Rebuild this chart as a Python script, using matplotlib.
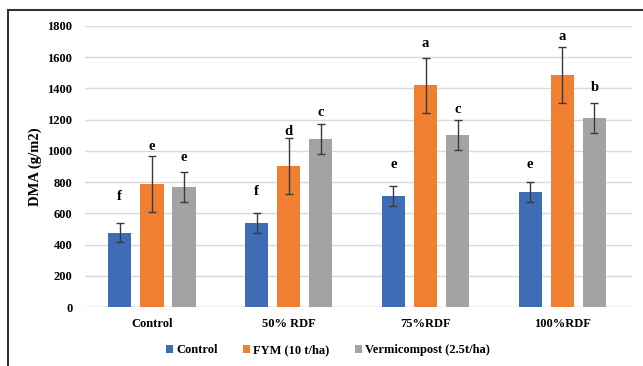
import numpy as np
import matplotlib
matplotlib.use("Agg")
import matplotlib.pyplot as plt
import matplotlib.patches as patch

categories = ['Control', '50% RDF', '75%RDF', '100%RDF']
series = ['Control', 'FYM (10 t/ha)', 'Vermicompost (2.5t/ha)']
control = [477, 538, 710, 737]
fym = [790, 905, 1420, 1487]
vermi = [770, 1075, 1100, 1210]
control_err = [63, 63, 65, 63]
fym_err = [180, 178, 178, 178]
vermi_err = [95, 95, 95, 95]
control_lab = ['f', 'f', 'e', 'e']
fym_lab = ['e', 'd', 'a', 'a']
vermi_lab = ['e', 'c', 'c', 'b']
control_lab_y = [711, 737, 910, 910]
fym_lab_y = [1031, 1127, 1690, 1730]
vermi_lab_y = [961, 1243, 1268, 1409]

colors = ['#3E6DB5', '#F07F32', '#A3A3A3']
plt.rcParams['font.family'] = ['Liberation Serif', 'DejaVu Serif']
plt.rcParams['font.weight'] = 'bold'

fig = plt.figure(figsize=(6.43, 3.66), dpi=100)
ax = fig.add_axes([0.132, 0.161, 0.851, 0.768])

x = np.arange(len(categories))
w = 0.17
off = 0.235
vals = [control, fym, vermi]
errs = [control_err, fym_err, vermi_err]
labs = [control_lab, fym_lab, vermi_lab]
laby = [control_lab_y, fym_lab_y, vermi_lab_y]
for i in range(3):
    pos = x + (i - 1) * off
    ax.bar(pos, vals[i], w, color=colors[i], label=series[i], zorder=3,
           yerr=errs[i], error_kw=dict(ecolor='#3a3a3a', capsize=3, elinewidth=1, capthick=1, zorder=4))
    for p, l, yy in zip(pos, labs[i], laby[i]):
        ax.text(p, yy, l, ha='center', va='center', fontsize=10.5, fontweight='bold')

ax.set_ylim(0, 1800)
ax.set_xlim(-0.49, 3.51)
ax.set_yticks(range(0, 1801, 200))
ax.grid(axis='y', color='#d9d9d9', linewidth=1, zorder=0)
ax.set_xticks(x)
ax.set_xticklabels(categories, fontsize=9, fontweight='bold')
ax.tick_params(axis='y', labelsize=9, length=0, pad=9)
ax.tick_params(axis='x', length=0, pad=8)
for s in ax.spines.values():
    s.set_visible(False)
ax.axhline(0, color='#d9d9d9', linewidth=1, zorder=2)
ax.set_ylabel('DMA (g/m2)', fontsize=10.5, fontweight='bold', labelpad=4)

fig.legend(loc='center', bbox_to_anchor=(0.51, 0.043), ncol=3, frameon=False,
           fontsize=9, handlelength=0.55, handleheight=0.55, handletextpad=0.3, columnspacing=2.0)

border = patch.Rectangle((0.0124, -0.01), 1.0, 0.983, transform=fig.transFigure,
                         fill=False, edgecolor='#333333', linewidth=1.5)
fig.patches.append(border)

fig.savefig('out.png', dpi=100)
